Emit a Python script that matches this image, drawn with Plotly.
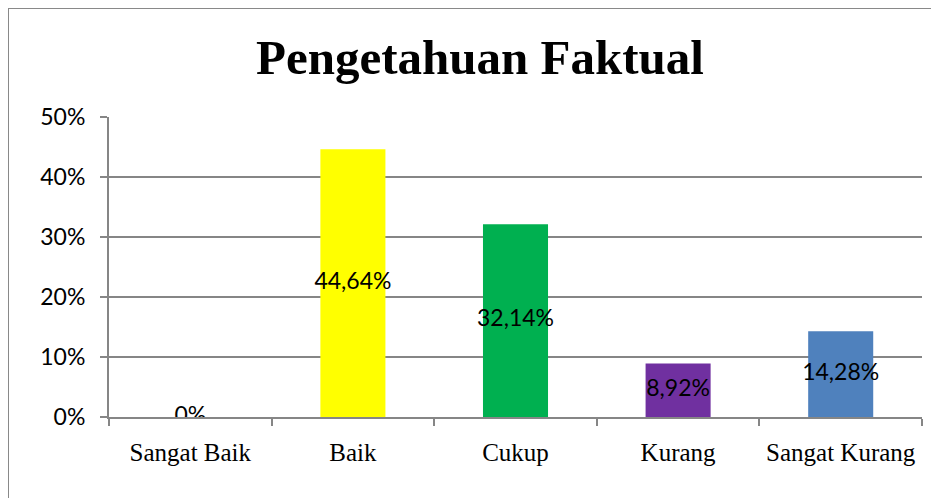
import plotly.graph_objects as go

# data
categories = ["Sangat Baik", "Baik", "Cukup", "Kurang", "Sangat Kurang"]
values = [0.0, 0.4464, 0.3214, 0.0892, 0.1428]
labels = ["0%", "44,64%", "32,14%", "8,92%", "14,28%"]
colors = ["#FFFF00", "#FFFF00", "#00B050", "#7030A0", "#4F81BD"]

GRID = "#868686"
SANS = "Lato, Carlito, Calibri, sans-serif"
SERIF = "Liberation Serif, Times New Roman, serif"

# page body has an 8px margin, so the figure is offset by (8, 8)
W, H = 931, 490
L, R, T, B = 101, 17, 109, 81
PW, PH = W - L - R, H - T - B

fig = go.Figure()
fig.add_trace(go.Bar(
    x=categories, y=values,
    marker_color=colors,
    marker_line=dict(width=0),
    width=0.4,
    hoverinfo="skip",
))
# labels centred in each bar (Excel "center" position)
fig.add_trace(go.Scatter(
    x=categories, y=[v / 2 for v in values],
    mode="text", text=labels,
    textfont=dict(family=SANS, size=23, color="#000000"),
    hoverinfo="skip",
))

fig.update_layout(
    width=W, height=H,
    margin=dict(l=L, r=R, t=T, b=B, autoexpand=False),
    paper_bgcolor="white", plot_bgcolor="white",
    showlegend=False,
    title=dict(
        text="<b>Pengetahuan Faktual</b>",
        x=472 / W, xanchor="center",
        y=1 - 49 / H, yanchor="middle",
        font=dict(family=SERIF, size=49, color="#000000"),
    ),
    xaxis=dict(
        showline=True, linecolor=GRID, linewidth=2,
        ticks="outside", tickson="boundaries", ticklen=7,
        tickcolor=GRID, tickwidth=2,
        tickangle=0,
        ticklabelstandoff=12,
        tickfont=dict(family=SERIF, size=25, color="#000000"),
        showgrid=False,
    ),
    yaxis=dict(
        range=[0, 0.5], dtick=0.1, tickformat=".0%",
        showline=True, linecolor=GRID, linewidth=2,
        ticks="outside", ticklen=7, tickcolor=GRID, tickwidth=2,
        ticklabelstandoff=10,
        showgrid=True, gridcolor=GRID, gridwidth=2,
        zeroline=False,
        tickfont=dict(family=SANS, size=23, color="#000000"),
    ),
    shapes=[dict(
        type="rect", xref="paper", yref="paper",
        x0=(0 - L) / PW, x1=1.05, y0=-0.3, y1=(PH + T) / PH,
        line=dict(color="#898989", width=2), fillcolor="rgba(0,0,0,0)",
        layer="below",
    )],
)

fig.write_html("out.html")
